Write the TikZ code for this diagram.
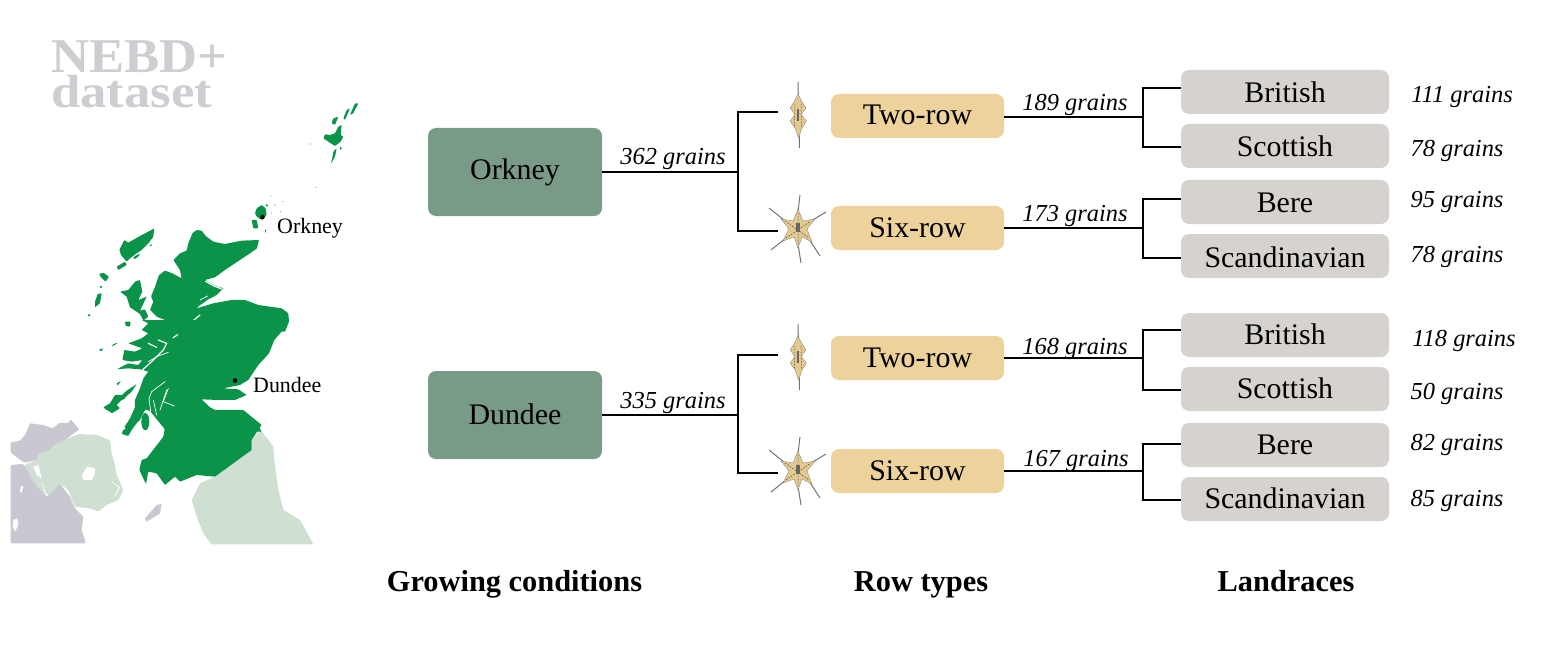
\documentclass[tikz,border=0pt]{standalone}
\usepackage{fontspec}
\setmainfont{Liberation Serif}
\definecolor{scot}{HTML}{0B9449}
\definecolor{palegreen}{HTML}{CFDFD2}
\definecolor{irgrey}{HTML}{C9C8D0}
\definecolor{wordgrey}{HTML}{CDCDD2}
\definecolor{orbox}{HTML}{7A9A88}
\definecolor{rowbox}{HTML}{EDD29B}
\definecolor{landbox}{HTML}{D6D3CE}
\definecolor{grainfill}{HTML}{E3C88F}
\tikzset{
  condbox/.style={fill=orbox,rounded corners=8bp,minimum width=174bp,minimum height=88bp,inner sep=0pt,text height=20bp,text depth=4bp,font=\fontsize{30}{34}\selectfont},
  rowtype/.style={fill=rowbox,rounded corners=8bp,minimum width=173bp,minimum height=44bp,inner sep=0pt,text height=21bp,text depth=3bp,font=\fontsize{30}{34}\selectfont},
  landrace/.style={fill=landbox,rounded corners=8bp,minimum width=208bp,minimum height=44bp,inner sep=0pt,text height=24bp,text depth=2bp,font=\fontsize{30}{34}\selectfont},
  landlow/.style={landrace,text height=22bp,text depth=3bp},
  grains/.style={anchor=base,inner sep=0pt,font=\itshape\fontsize{24.5}{28}\selectfont},
  header/.style={anchor=base,inner sep=0pt,font=\bfseries\fontsize{30.5}{34}\selectfont},
  place/.style={anchor=base west,inner sep=0pt,font=\fontsize{22}{25}\selectfont},
  title/.style={anchor=base west,inner sep=0pt,text=wordgrey,font=\bfseries\fontsize{53}{55}\selectfont},
  conn/.style={draw=black,line width=2pt},
  loch/.style={draw=white,line width=1.2bp,line cap=round,line join=round},
  thinloch/.style={draw=white,line width=0.7bp,line cap=round,line join=round},
  land/.style={fill=scot,draw=none,rounded corners=0.7bp},
  awn/.style={draw=black!55,line width=1pt},
  zoomA/.style={shift={(85,220)},x=0.33333bp,y=-0.33333bp},
  zoomB/.style={shift={(85,320)},x=0.33333bp,y=-0.33333bp},
  zoomC/.style={shift={(0,280)},x=0.33333bp,y=-0.33333bp},
  zoomD/.style={shift={(0,410)},x=0.33333bp,y=-0.33333bp},
  zoomE/.style={shift={(0,20)},x=0.33333bp,y=-0.33333bp},
}
\newcommand{\tworowspike}[2]{%
  \begin{scope}[shift={(#1,#2)}]
    \draw[awn] (0,-33)--(1.5,33);
    \fill[grainfill,draw=black!50,line width=0.3pt,rounded corners=0.6bp] (0,-21)--(4,-13)--(8,-7)--(4,-2)--(4,1)--(8.5,6)--(4,13)--(0.5,23)--(-3,13)--(-8,6)--(-4,1)--(-4,-2)--(-8,-7)--(-4,-13)--cycle;
    \draw[black!75,line width=0.5pt,dash pattern=on 1.5pt off 1.5pt] (-3,-11)--(-3.5,12) (3,-11)--(3.5,12);
    \fill[black!60] (-1.3,-6) rectangle (1.3,6);
  \end{scope}}
\newcommand{\sixrowspike}[2]{%
  \begin{scope}[shift={(#1,#2)}]
    \draw[awn] (2,-33)--(0,-16) (-29,-20)--(-14,-8) (-27,22)--(-12,10) (3,35)--(0,16) (22,28)--(11,11) (28,-16)--(13,-7);
    \fill[grainfill,draw=black!50,line width=0.3pt] (0,-19)--(5,-7)--(17,-9)--(9,1)--(14,14)--(4,9)--(0,20)--(-4,9)--(-15,13)--(-9,1)--(-17,-9)--(-5,-7)--cycle;
    \draw[black!75,line width=0.5pt,dash pattern=on 1.5pt off 1.5pt] (0,-15)--(0,16) (-13,-7)--(11,10) (-12,10)--(13,-7);
    \fill[black!60] (-1.7,-5) rectangle (1.7,4);
  \end{scope}}
\begin{document}
\begin{tikzpicture}[x=1bp,y=-1bp]
\useasboundingbox (0,0) rectangle (1545,645);
\fill[white] (0,0) rectangle (1545,645);

% ---------- neighbours
\begin{scope}[zoomD]
\fill[irgrey,rounded corners=1bp] (32,97)--(60,92)--(75,75)--(90,40)--(130,45)--(158,55)--(180,38)--(205,40)--(212,28)--(238,58)--(195,90)--(110,150)--(72,158)--(32,128)--cycle;
\fill[irgrey,rounded corners=1bp] (32,165)--(70,162)--(110,220)--(140,260)--(180,220)--(210,260)--(225,295)--(250,320)--(245,360)--(258,400)--(32,400)--cycle;
\fill[white] (62,230)--(70,228)--(65,248)--(60,245)--cycle;
\fill[white] (40,330)--(52,325)--(55,345)--(45,365)--(38,350)--cycle;
\fill[palegreen,rounded corners=1.5bp] (72,165)--(110,150)--(115,130)--(140,125)--(170,100)--(235,72)--(290,75)--(330,90)--(335,130)--(345,165)--(350,195)--(370,240)--(355,270)--(320,285)--(295,305)--(270,295)--(225,290)--(205,240)--(180,220)--(150,255)--(125,245)--(100,215)--(85,185)--cycle;
\fill[white] (262,170)--(285,175)--(285,190)--(275,210)--(250,210)--(245,195)--cycle;
\fill[white] (100,170)--(115,165)--(125,205)--(110,195)--cycle;
\draw[white,line width=0.7bp] (335,215)--(358,232)--(345,258);
\draw[white,line width=0.7bp] (125,215)--(135,248);
\fill[irgrey] (485,282)--(470,285)--(435,325)--(440,335)--(480,310)--cycle;
\end{scope}
\begin{scope}[zoomC]
\fill[palegreen,rounded corners=1bp] (755,480)--(782,450)--(820,500)--(825,560)--(835,630)--(850,690)--(900,720)--(940,793)--(635,793)--(610,760)--(590,710)--(575,660)--(600,610)--(645,590)--(700,550)--(755,510)--cycle;
\end{scope}

% ---------- Scotland, northern part
\begin{scope}[zoomA]
\fill[land] (335,30)--(350,32)--(362,48)--(385,65)--(420,72)--(470,62)--(522,60)--(516,85)--(495,100)--(450,130)--(420,150)--(390,172)--(360,180)--(385,195)--(415,205)--(395,225)--(370,238)--(342,258)--(335,265)--(385,250)--(440,240)--(480,240)--(520,255)--(590,265)--(610,280)--(612,305)--(600,335)--(210,335)--(190,325)--(210,310)--(240,300)--(215,290)--(195,270)--(205,245)--(198,230)--(212,195)--(222,165)--(240,152)--(262,160)--(290,175)--(285,150)--(265,120)--(285,100)--(305,92)--(310,70)--(322,40)--cycle;
\draw[loch] (362,184)--(385,197)--(410,207);
\draw[thinloch] (345,240)--(368,228);
\draw[loch] (303,320)--(345,285);
% Skye
\fill[land] (105,215)--(130,210)--(150,185)--(165,180)--(172,215)--(160,240)--(185,230)--(165,272)--(180,268)--(190,290)--(175,302)--(165,282)--(135,262)--(125,230)--cycle;
% Lewis and Harris
\fill[land] (208,25)--(205,50)--(190,70)--(170,90)--(155,100)--(135,115)--(125,125)--(108,105)--(103,90)--(118,60)--(130,68)--(165,48)--(190,35)--cycle;
\fill[land] (95,140)--(120,125)--(125,135)--(100,150)--cycle;
\fill[land] (193,77)--(202,72)--(198,80)--cycle;
\fill[land] (145,112)--(165,100)--(160,110)--(148,118)--cycle;
% Uists
\fill[land] (42,162)--(55,158)--(72,170)--(62,185)--(48,172)--cycle;
\fill[land] (45,198)--(52,198)--(50,204)--(44,203)--cycle;
\fill[land] (38,222)--(50,220)--(45,250)--(30,262)--(30,245)--cycle;
\fill[land] (10,282)--(17,284)--(14,290)--(9,288)--cycle;
\fill[land] (120,305)--(137,305)--(135,320)--(122,318)--cycle;
\end{scope}

% ---------- Scotland, middle part
\begin{scope}[zoomB]
\fill[land] (612,0)--(590,35)--(568,60)--(552,100)--(520,135)--(510,150)--(490,180)--(465,195)--(415,205)--(460,208)--(485,225)--(450,240)--(400,240)--(350,238)--(375,262)--(410,280)--(450,275)--(470,270)--(510,300)--(530,335)--(245,335)--(225,310)--(205,285)--(190,270)--(180,270)--(165,300)--(140,322)--(125,328)--(118,322)--(135,295)--(150,262)--(150,240)--(165,205)--(175,175)--(190,155)--(165,148)--(130,145)--(95,148)--(130,130)--(160,135)--(172,120)--(140,125)--(112,120)--(118,90)--(150,95)--(172,85)--(130,70)--(170,55)--(190,40)--(170,30)--(190,10)--(170,0)--cycle;
\draw[loch] (220,60)--(245,70)--(235,90)--(200,125)--(172,150);
\draw[thinloch] (250,97)--(215,110)--(190,125);
\draw[loch] (190,70)--(215,82);
\draw[loch] (265,53)--(278,44);
\draw[thinloch] (240,185)--(200,215)--(192,235)--(198,282);
\draw[thinloch] (250,205)--(235,245)--(268,258);
\draw[thinloch] (245,210)--(225,270);
\draw[thinloch] (205,240)--(215,285);
% Mull and neighbours
\fill[land] (55,262)--(75,250)--(90,225)--(115,225)--(122,235)--(110,240)--(95,255)--(105,265)--(80,280)--(75,275)--(65,270)--cycle;
\fill[land] (108,228)--(125,212)--(155,192)--(140,215)--(115,237)--cycle;
\fill[land] (95,190)--(108,183)--(98,197)--cycle;
\fill[land] (85,72)--(100,68)--(80,80)--cycle;
\fill[land] (42,88)--(55,85)--(48,95)--cycle;
\end{scope}

% ---------- Scotland, southern part
\begin{scope}[zoomC]
\fill[land] (785,435)--(755,480)--(755,510)--(700,550)--(645,590)--(590,585)--(540,605)--(525,590)--(495,615)--(470,580)--(445,575)--(438,612)--(418,570)--(425,540)--(440,535)--(490,470)--(497,430)--(488,410)--(500,390)--(730,390)--cycle;
\fill[scot] (436,425) ellipse (12 and 26);
\fill[land] (366,462)--(385,468)--(395,450)--(420,415)--(420,395)--(405,400)--(385,440)--(368,452)--cycle;
\end{scope}

% ---------- Orkney and Shetland
\begin{scope}[zoomE]
\fill[land] (770,565)--(785,555)--(797,565)--(800,585)--(785,600)--(770,590)--(765,580)--cycle;
\fill[land] (755,600)--(770,600)--(775,625)--(760,625)--cycle;
\fill[land] (795,628)--(799,628)--(796,640)--cycle;
\fill[land] (797,552)--(806,556)--(800,560)--cycle;
\foreach \p in {(812,528),(848,545),(815,580),(842,575),(825,555),(930,372),(948,502)}{\fill[scot!45] \p circle (2.5);}
\fill[land] (1065,250)--(1075,250)--(1060,280)--(1050,285)--cycle;
\fill[land] (1040,270)--(1050,265)--(1035,300)--(1030,295)--cycle;
\fill[land] (1000,295)--(1015,290)--(1005,315)--(995,310)--cycle;
\fill[land] (1015,320)--(1025,315)--(1022,345)--(1030,350)--(1022,365)--(1005,378)--(985,365)--(970,355)--(975,343)--(990,345)--(1005,340)--cycle;
\fill[land] (1000,395)--(1010,385)--(1005,410)--(992,432)--(998,410)--cycle;
\fill[land] (1020,380)--(1027,384)--(1020,390)--cycle;
\end{scope}

% ---------- map labels
\fill[black] (262.5,217) circle (2.3bp);
\fill[black] (235,380.5) circle (2.3bp);
\node[place] (orkneylabel) at (277,233) {Orkney};
\node[place] (dundeelabel) at (253,392) {Dundee};
\node[title,yscale=0.92,transform shape] (titlea) at (51,73) {NEBD+};
\node[title,yscale=0.88,transform shape] (titleb) at (51,108) {dataset};

% ---------- boxes
\node[condbox] (ork) at (515,172) {Orkney};
\node[condbox,text height=22bp,text depth=4bp] (dun) at (515,415) {Dundee};

\node[rowtype] (r1) at (917.5,116) {Two-row};
\node[rowtype] (r2) at (917.5,228) {Six-row};
\node[rowtype] (r3) at (917.5,358) {Two-row};
\node[rowtype] (r4) at (917.5,471) {Six-row};

\node[landrace] (l1) at (1285,92) {British};
\node[landrace] (l2) at (1285,146) {Scottish};
\node[landrace] (l3) at (1285,202) {Bere};
\node[landrace] (l4) at (1285,256) {Scandinavian};
\node[landlow] (l5) at (1285,335) {British};
\node[landlow] (l6) at (1285,389) {Scottish};
\node[landlow] (l7) at (1285,445) {Bere};
\node[landlow] (l8) at (1285,499) {Scandinavian};

% ---------- junctions and free ends
\coordinate (ja) at (738,172);
\coordinate (jb) at (738,415);
\coordinate (ea) at (778,112);
\coordinate (eb) at (778,231);
\coordinate (ec) at (778,355);
\coordinate (ed) at (778,473);
\coordinate (j1) at (1143,117);
\coordinate (j2) at (1143,228);
\coordinate (j3) at (1143,358);
\coordinate (j4) at (1143,471);

% ---------- connectors
\draw[conn] (ork.east) -- (ja);
\draw[conn] (dun.east) -- (jb);
\draw[conn] (ea) -| (ja) |- (eb);
\draw[conn] (ec) -| (jb) |- (ed);
\draw[conn] ([yshift=-1bp]r1.east) -- (j1);
\draw[conn] (r2.east) -- (j2);
\draw[conn] (r3.east) -- (j3);
\draw[conn] (r4.east) -- (j4);
\draw[conn] ([yshift=4bp]l1.west) -| (j1);
\draw[conn] ([yshift=-1bp]l2.west) -| (j1);
\draw[conn] ([yshift=3bp]l3.west) -| (j2);
\draw[conn] ([yshift=-2bp]l4.west) -| (j2);
\draw[conn] ([yshift=5bp]l5.west) -| (j3);
\draw[conn] ([yshift=-1bp]l6.west) -| (j3);
\draw[conn] ([yshift=1bp]l7.west) -| (j4);
\draw[conn] ([yshift=-1bp]l8.west) -| (j4);

% ---------- spikes
\tworowspike{798}{115}
\sixrowspike{798}{228}
\tworowspike{798}{357}
\sixrowspike{798}{470}

% ---------- grain counts
\node[grains] (g1) at (673,165) {362 grains};
\node[grains] (g2) at (673,408) {335 grains};
\node[grains] (g3) at (1075,111) {189 grains};
\node[grains] (g4) at (1075,222) {173 grains};
\node[grains] (g5) at (1075,354) {168 grains};
\node[grains] (g6) at (1076,466) {167 grains};
\node[grains] (g7) at (1462,103) {111 grains};
\node[grains] (g8) at (1457,157) {78 grains};
\node[grains] (g9) at (1457,208) {95 grains};
\node[grains] (g10) at (1457,262) {78 grains};
\node[grains] (g11) at (1464,346) {118 grains};
\node[grains] (g12) at (1457,399) {50 grains};
\node[grains] (g13) at (1457,450) {82 grains};
\node[grains] (g14) at (1457,506) {85 grains};

% ---------- headers
\node[header] (h1) at (514.5,591) {Growing conditions};
\node[header] (h2) at (921,591) {Row types};
\node[header] (h3) at (1286,591) {Landraces};
\end{tikzpicture}
\end{document}
